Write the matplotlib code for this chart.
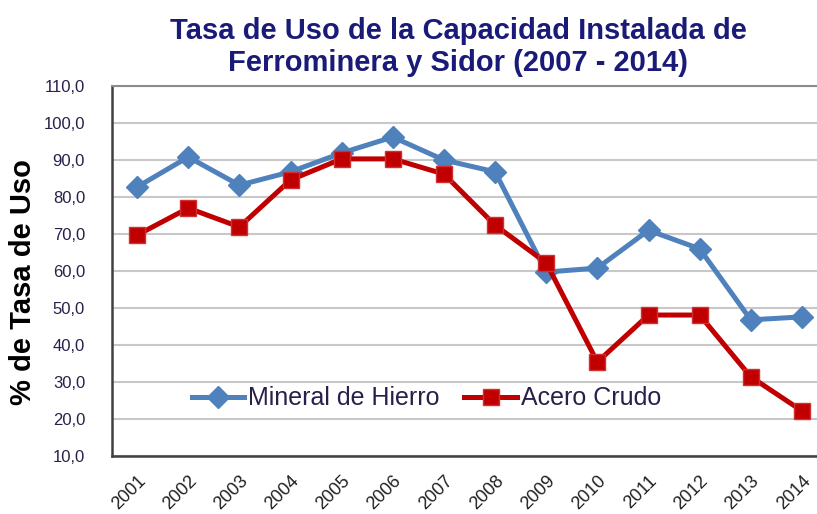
import matplotlib
matplotlib.use("Agg")
import matplotlib.pyplot as plt

plt.rcParams['font.family'] = ['Liberation Sans', 'DejaVu Sans']

years = ['2001', '2002', '2003', '2004', '2005', '2006', '2007',
         '2008', '2009', '2010', '2011', '2012', '2013', '2014']
mineral_hierro = [82.7, 90.8, 83.2, 86.8, 91.9, 96.2, 90.0,
                  86.8, 59.7, 60.8, 71.0, 66.0, 46.8, 47.6]
acero_crudo = [69.7, 77.0, 71.9, 84.6, 90.3, 90.3, 86.2,
               72.4, 62.2, 35.4, 48.1, 48.1, 31.4, 22.2]
y_ticks = [10, 20, 30, 40, 50, 60, 70, 80, 90, 100, 110]

fig = plt.figure(figsize=(8.17, 5.14), dpi=100)
# eje ligeramente recortado por la derecha, como en el original
ax = fig.add_axes([111.5 / 817, 58 / 514, 716 / 817, 370 / 514])

x = range(len(years))
ax.plot(x, mineral_hierro, color='#4F81BD', lw=3.6, marker='D', ms=11,
        mec='#4F81BD', label='Mineral de Hierro', zorder=3)
ax.plot(x, acero_crudo, color='#C00000', lw=3.6, marker='s', ms=12,
        mec='#D03030', mew=1, label='Acero Crudo', zorder=4)

ax.set_xlim(-0.5, len(years) - 0.5)
ax.set_ylim(10, 110)
ax.set_yticks(y_ticks)
ax.set_yticklabels([f'{v:.1f}'.replace('.', ',') for v in y_ticks],
                   fontsize=12, color='#2A1F4A')
ax.set_xticks(list(x))
ax.set_xticklabels(years, rotation=45, ha='right', rotation_mode='anchor',
                   fontsize=13, color='#202020')
ax.tick_params(axis='y', length=0, pad=19)
ax.tick_params(axis='x', length=0, pad=12)

ax.grid(axis='y', color='#C8C8C8', lw=1.5)
ax.set_axisbelow(True)
for side in ['left', 'bottom']:
    ax.spines[side].set_color('#404040')
    ax.spines[side].set_linewidth(1.8)
ax.spines['top'].set_color('#8C8C8C')
ax.spines['top'].set_linewidth(1.5)
ax.spines['right'].set_visible(False)

ax.set_ylabel('% de Tasa de Uso', fontsize=21, fontweight='bold')
ax.yaxis.set_label_coords(-0.104, 0.47)

fig.text(0.561, 0.908, 'Tasa de Uso de la Capacidad Instalada de\nFerrominera y Sidor (2007 - 2014)',
         ha='center', va='center', fontsize=21, fontweight='bold',
         color='#1A1A78', linespacing=1.2)

leg = ax.legend(loc='upper left', bbox_to_anchor=(0.098, 0.215), ncol=2,
                frameon=False, fontsize=18, handlelength=2.1,
                handletextpad=0.15, columnspacing=1.0, borderaxespad=0)
for t in leg.get_texts():
    t.set_color('#2A1F4A')

fig.savefig('out.png', dpi=100)
